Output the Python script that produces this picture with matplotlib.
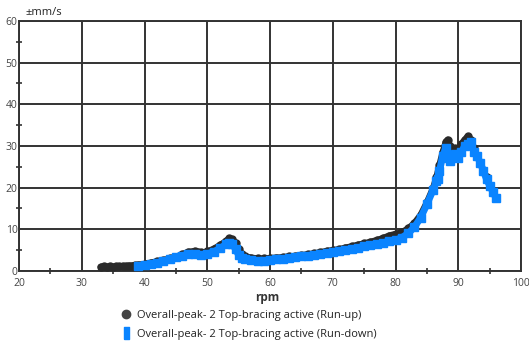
import matplotlib
matplotlib.use("Agg")
import matplotlib.pyplot as plt
from matplotlib.ticker import MultipleLocator
from matplotlib.lines import Line2D

plt.rcParams['font.family'] = ['Open Sans', 'DejaVu Sans']

# Run-up measurement (rpm, overall peak velocity)
runup_rpm = [33.0, 33.5, 34.0, 34.5, 35.0, 35.5, 36.0, 36.5, 37.0, 37.5, 38.0, 38.5, 39.0,
             40.0, 41.0, 42.0, 43.0, 44.0, 45.0, 46.0, 47.0, 48.0, 48.5, 49.0, 49.5, 50.0,
             51.0, 52.0, 53.0, 53.5, 54.0, 54.5, 55.0, 55.5, 56.0, 57.0, 58.0, 59.0, 60.0,
             61.0, 62.0, 63.0, 64.0, 65.0, 66.0, 67.0, 68.0, 69.0, 70.0, 71.0, 72.0, 73.0,
             74.0, 75.0, 76.0, 77.0, 78.0, 79.0, 80.0, 81.0, 82.0, 83.0, 84.0, 85.0, 86.0,
             86.5, 87.0, 87.5, 88.0, 88.3, 88.7, 89.0, 89.5, 90.0, 90.5, 91.0, 91.5, 92.0,
             92.5, 93.0, 93.5, 94.0, 94.5, 95.0, 95.5]
runup_val = [1.0, 1.1, 1.0, 1.1, 1.0, 1.1, 1.1, 1.2, 1.2, 1.3, 1.3, 1.4, 1.5,
             1.7, 2.0, 2.3, 2.6, 3.0, 3.4, 4.0, 4.6, 4.8, 4.6, 4.5, 4.4, 4.7,
             5.3, 6.2, 7.2, 7.8, 7.6, 6.8, 5.2, 4.0, 3.5, 3.2, 3.0, 3.0, 3.1,
             3.2, 3.3, 3.5, 3.6, 3.8, 4.0, 4.2, 4.5, 4.8, 5.0, 5.2, 5.6, 5.9,
             6.3, 6.6, 7.0, 7.4, 7.9, 8.5, 8.9, 9.3, 10.2, 11.5, 13.5, 16.5, 20.0,
             22.5, 25.5, 28.5, 31.0, 31.5, 30.0, 29.0, 29.5, 29.0, 30.5, 31.5, 32.3, 31.5,
             29.5, 27.5, 26.0, 24.0, 22.5, 20.5, 19.0]

# Run-down measurement (rpm, overall peak velocity)
rundown_rpm = [39.0, 40.0, 41.0, 42.0, 43.0, 44.0, 45.0, 46.0, 47.0, 48.0, 49.0, 50.0,
               51.0, 52.0, 53.0, 53.5, 54.0, 54.5, 55.0, 55.5, 56.0, 57.0, 58.0, 59.0,
               60.0, 61.0, 62.0, 63.0, 64.0, 65.0, 66.0, 67.0, 68.0, 69.0, 70.0, 71.0,
               72.0, 73.0, 74.0, 75.0, 76.0, 77.0, 78.0, 79.0, 80.0, 81.0, 82.0, 83.0,
               84.0, 85.0, 86.0, 86.5, 86.8, 87.0, 87.5, 88.0, 88.3, 88.7, 89.0, 89.5,
               90.0, 90.5, 91.0, 91.5, 92.0, 92.5, 93.0, 93.5, 94.0, 94.5, 95.0, 95.5, 96.0]
rundown_val = [1.2, 1.4, 1.7, 2.0, 2.4, 2.8, 3.3, 3.7, 4.0, 4.0, 3.9, 4.1,
               4.6, 5.4, 6.4, 6.8, 6.4, 5.2, 3.8, 3.2, 2.8, 2.6, 2.5, 2.5,
               2.6, 2.8, 2.9, 3.1, 3.3, 3.5, 3.7, 3.9, 4.1, 4.3, 4.5, 4.7,
               5.0, 5.3, 5.6, 5.9, 6.2, 6.5, 6.8, 7.1, 7.4, 8.0, 9.0, 10.5,
               12.8, 16.0, 19.5, 21.5, 22.0, 24.0, 27.5, 29.5, 27.0, 26.5, 27.5, 28.0,
               27.0, 28.5, 30.0, 30.5, 31.0, 28.5, 27.5, 26.0, 24.0, 22.0, 20.5, 19.0, 17.5]

runup_label = "Overall-peak- 2 Top-bracing active (Run-up)"
rundown_label = "Overall-peak- 2 Top-bracing active (Run-down)"
x_label = "rpm"
y_unit = "±mm/s"

dark = "#2a2a2a"
blue = "#0a84ff"
grid_c = "#333333"
text_c = "#444444"

fig = plt.figure(figsize=(5.29, 3.43), dpi=100)
ax = fig.add_axes([0.036, 0.21, 0.949, 0.729])

ax.plot(runup_rpm, runup_val, color=dark, lw=4.5, marker='o', ms=5,
        solid_capstyle='round', zorder=3)
ax.plot(rundown_rpm, rundown_val, color=blue, lw=5.0, marker='s', ms=5.5,
        solid_capstyle='butt', zorder=4)

ax.set_xlim(20, 100)
ax.set_ylim(0, 60)
ax.xaxis.set_major_locator(MultipleLocator(10))
ax.xaxis.set_minor_locator(MultipleLocator(5))
ax.yaxis.set_major_locator(MultipleLocator(10))
ax.yaxis.set_minor_locator(MultipleLocator(5))
ax.grid(True, which='major', color=grid_c, lw=1.4)
ax.set_axisbelow(True)
for s in ax.spines.values():
    s.set_color(grid_c)
    s.set_linewidth(1.4)
ax.tick_params(which='both', direction='inout', color=grid_c, width=1.2)
ax.tick_params(which='major', length=0, labelsize=7.5, labelcolor=text_c)
ax.tick_params(axis='x', which='major', pad=5)
ax.tick_params(axis='y', which='major', pad=1)
ax.tick_params(which='minor', length=4)

ax.text(0.012, 1.01, y_unit, transform=ax.transAxes, fontsize=8, color='#222222',
        ha='left', va='bottom')
fig.text(0.505, 0.132, x_label, ha='center', va='center', fontsize=8.5,
         fontweight='bold', color='#333333')

# narrow upright bar used as the run-down legend symbol
bar_marker = [(-0.45, -1.0), (0.45, -1.0), (0.45, 1.0), (-0.45, 1.0), (-0.45, -1.0)]
handles = [Line2D([], [], ls='none', marker='o', ms=6, color='#444444'),
           Line2D([], [], ls='none', marker=bar_marker, ms=8, color=blue)]
leg = fig.legend(handles, [runup_label, rundown_label], loc='upper left',
                 bbox_to_anchor=(0.228, 0.097), frameon=False, fontsize=8,
                 handlelength=1.0, handletextpad=0.5, labelspacing=0.75,
                 borderpad=0, borderaxespad=0)
for t in leg.get_texts():
    t.set_color('#222222')

fig.savefig("out.png", dpi=100)
